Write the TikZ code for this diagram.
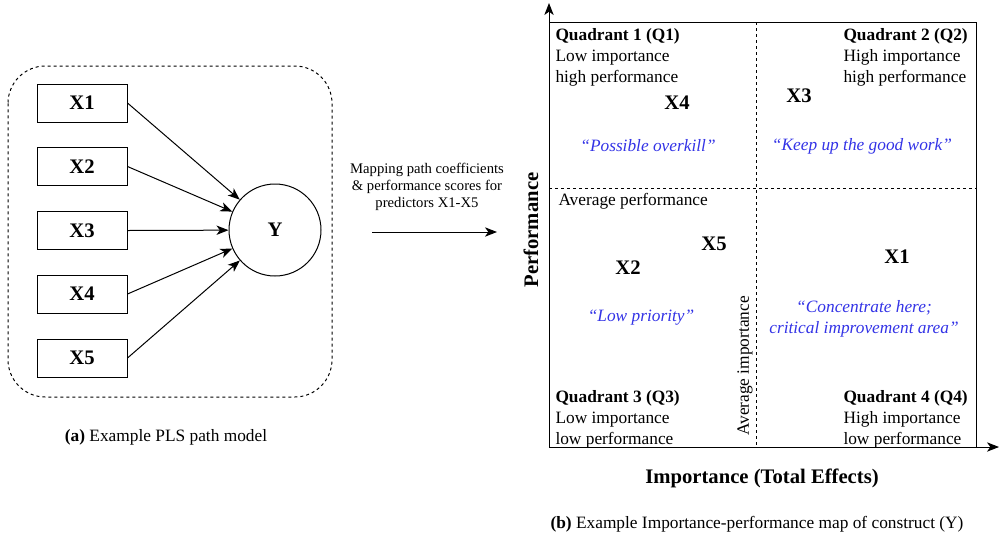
\documentclass[tikz,border=0pt]{standalone}
\usepackage{fontspec}
\setmainfont{Liberation Serif}
\usetikzlibrary{arrows.meta}
\definecolor{quoteblue}{RGB}{51,51,230}

\begin{document}
\begin{tikzpicture}[x=0.75pt, y=-0.75pt, line width=0.75pt,
		font=\fontsize{13}{15.75}\selectfont,
		var/.style={draw, minimum width=67.5pt, minimum height=28.5pt, inner sep=0pt, font=\fontsize{15.5}{18}\selectfont\bfseries},
		lbl/.style={font=\fontsize{15.5}{18}\selectfont\bfseries},
		quote/.style={text=quoteblue, font=\fontsize{13}{15.75}\selectfont\itshape, align=center},
		quad/.style={anchor=north west, inner sep=0pt, align=left},
		grid/.style={dash pattern=on 2.25pt off 2.25pt},
		tip/.style={-{Stealth[length=9pt, width=7pt, inset=2.5pt]}}]
	\useasboundingbox (0,0) rectangle (999,540);
	
	% path model
	\draw[grid, rounded corners=28pt] (8,66) rectangle (332,397);
	\node[var] (x1) at (82,103) {X1};
	\node[var] (x2) at (82,166.5) {X2};
	\node[var] (x3) at (82,230.5) {X3};
	\node[var] (x4) at (82,294) {X4};
	\node[var] (x5) at (82,358) {X5};
	\node[draw, circle, minimum size=69pt, inner sep=0pt, lbl] (y) at (275,230) {Y};
	\foreach \i in {1,...,5}
		\draw[tip] (x\i.east) -- (y);
	\node (capa) at (166,437) {\textbf{(a)} Example PLS path model};
	
	% mapping
	\node[align=center, font=\fontsize{11}{12.75}\selectfont] (map) at (427,187) {Mapping path coefficients\\ \& performance scores for\\ predictors X1-X5};
	\coordinate (m1) at (372,232);
	\coordinate (m2) at (497,232);
	\draw[tip] (m1) -- (m2);
	
	% importance-performance map
	\coordinate (o) at (549,447);
	\coordinate (ytop) at (549,3);
	\coordinate (xend) at (999,447);
	\draw (549,22) rectangle (976,447);
	\draw[tip] (o) -- (ytop);
	\draw[tip] (o) -- (xend);
	\draw[grid] (549,188) -- (976,188);
	\draw[grid] (756,22) -- (756,447);
	
	\node[quad] (q1) at (555,28) {\textbf{Quadrant 1 (Q1)}\\Low importance\\high performance};
	\node[quad] (q2) at (843,28) {\textbf{Quadrant 2 (Q2)}\\High importance\\high performance};
	\node[quad] (q3) at (555,390) {\textbf{Quadrant 3 (Q3)}\\Low importance\\low performance};
	\node[quad] (q4) at (843,390) {\textbf{Quadrant 4 (Q4)}\\High importance\\low performance};
	
	\node[lbl] (p4) at (677,103) {X4};
	\node[lbl] (p3) at (799,96) {X3};
	\node[lbl] (p5) at (714,244) {X5};
	\node[lbl] (p2) at (628,268) {X2};
	\node[lbl] (p1) at (897,257) {X1};
	
	\node[quote] (qt1) at (648,146) {“Possible overkill”};
	\node[quote] (qt2) at (862,146) {“Keep up the good work”};
	\node[quote] (qt3) at (641,318) {“Low priority”};
	\node[quote] (qt4) at (864,319) {“Concentrate here;\\critical improvement area”};
	
	\node[anchor=west, inner sep=0pt] (avgp) at (558,201) {Average performance};
	\node[rotate=90] (avgi) at (745,366) {Average importance};
	\node[rotate=90, lbl] (perf) at (531,230) {Performance};
	\node[lbl] (imp) at (762,478) {Importance (Total Effects)};
	\node (capb) at (757,524) {\textbf{(b)} Example Importance-performance map of construct (Y)};
\end{tikzpicture}
\end{document}
